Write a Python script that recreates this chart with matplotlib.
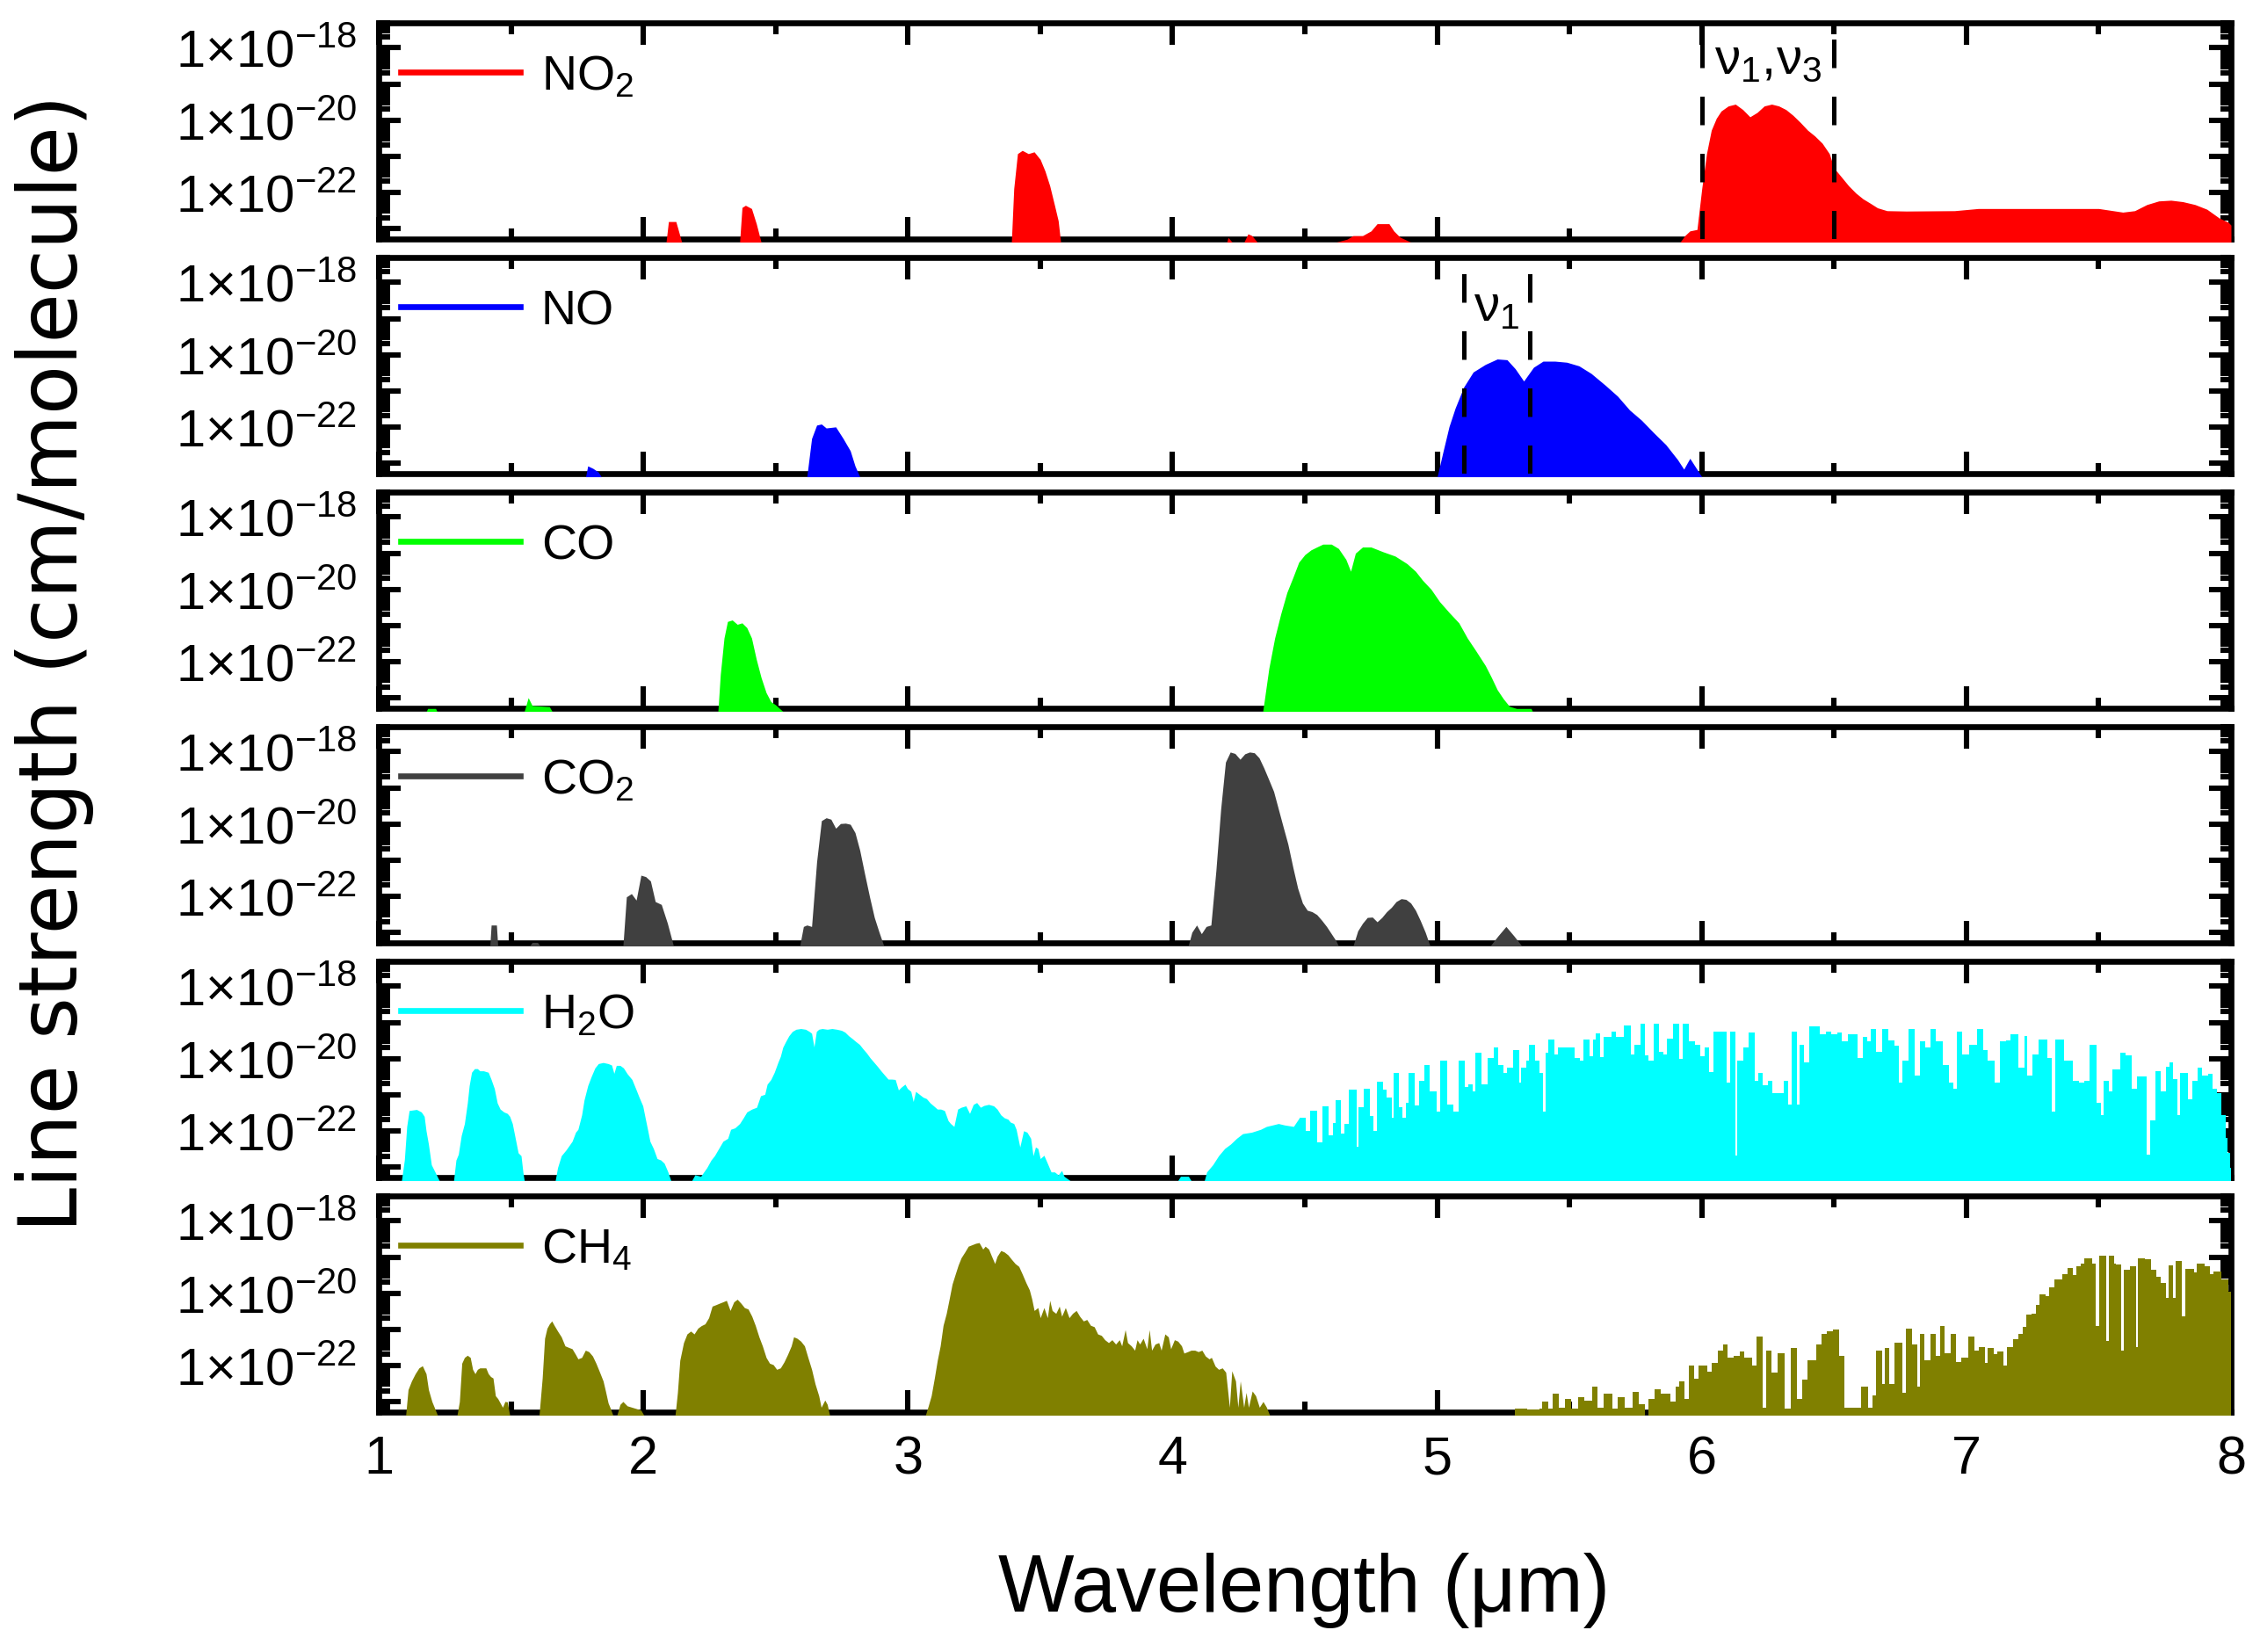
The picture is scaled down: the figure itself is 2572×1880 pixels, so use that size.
import numpy as np
import matplotlib
matplotlib.use('Agg')
import matplotlib.pyplot as plt
from matplotlib.lines import Line2D
from matplotlib.ticker import MultipleLocator, LogLocator, FixedLocator, FuncFormatter, NullFormatter

plt.rcParams['font.family'] = 'Liberation Sans'
plt.rcParams['mathtext.fontset'] = 'custom'
plt.rcParams['mathtext.rm'] = 'Liberation Sans'
plt.rcParams['mathtext.it'] = 'Liberation Sans:italic'
plt.rcParams['mathtext.bf'] = 'Liberation Sans:bold'

# wavelength (um) and log10 of line strength (cm/molecule)
no2_wl = [2.086, 2.095, 2.123, 2.132, 2.145,
          2.364, 2.373, 2.386, 2.409, 2.427, 2.445,
          3.391, 3.400, 3.414, 3.432, 3.455, 3.477, 3.500, 3.518, 3.536, 3.555, 3.568, 3.577,
          4.205, 4.210, 4.225, 4.270, 4.285, 4.300, 4.320,
          4.618, 4.659, 4.682, 4.718, 4.750, 4.773, 4.818, 4.836, 4.859, 4.900,
          5.918, 5.936, 5.955, 5.982, 6.000, 6.018, 6.036, 6.055, 6.073, 6.100,
          6.127, 6.155, 6.182, 6.209, 6.236, 6.264, 6.291, 6.318, 6.345, 6.373,
          6.400, 6.427, 6.455, 6.482, 6.500, 6.527, 6.555, 6.582, 6.609, 6.636,
          6.664, 6.700, 6.773, 6.955, 7.045, 7.318, 7.500, 7.591, 7.636, 7.682,
          7.727, 7.773, 7.818, 7.864, 7.909, 7.955, 7.990, 8.000]
no2_logs = [-23.4, -22.81, -22.81, -23.04, -23.4,
            -23.4, -22.42, -22.36, -22.45, -22.87, -23.4,
            -23.4, -21.90, -20.93, -20.84, -20.93, -20.88, -21.09, -21.41, -21.82, -22.39, -22.79, -23.4,
            -23.4, -23.25, -23.4, -23.4, -23.15, -23.2, -23.4,
            -23.4, -23.3, -23.2, -23.2, -23.07, -22.87, -22.87, -23.07, -23.24, -23.4,
            -23.4, -23.20, -23.07, -23.03, -21.90, -20.93, -20.28, -19.95, -19.75, -19.61,
            -19.56, -19.71, -19.91, -19.79, -19.61, -19.56, -19.61, -19.71, -19.87, -20.07,
            -20.28, -20.44, -20.64, -20.93, -21.33, -21.57, -21.82, -22.02, -22.18, -22.30,
            -22.43, -22.51, -22.52, -22.51, -22.45, -22.45, -22.45, -22.55, -22.51, -22.34,
            -22.24, -22.22, -22.26, -22.34, -22.47, -22.71, -22.83, -22.91]

no_wl = [1.782, 1.790, 1.810, 1.830, 1.841,
         2.618, 2.636, 2.655, 2.673, 2.691, 2.727, 2.755, 2.782, 2.800, 2.818,
         5.000, 5.023, 5.045, 5.068, 5.100, 5.136, 5.182, 5.227, 5.264, 5.295,
         5.327, 5.364, 5.400, 5.445, 5.490, 5.536, 5.582, 5.636, 5.682, 5.727,
         5.773, 5.818, 5.864, 5.909, 5.932, 5.955, 5.977, 6.000]
no_logs = [-23.4, -23.08, -23.15, -23.25, -23.4,
           -23.4, -22.32, -21.95, -21.92, -22.03, -22.00, -22.32, -22.66, -23.08, -23.4,
           -23.4, -22.66, -21.99, -21.48, -20.90, -20.48, -20.27, -20.12, -20.14, -20.39,
           -20.73, -20.35, -20.18, -20.18, -20.21, -20.31, -20.52, -20.85, -21.15, -21.53,
           -21.82, -22.16, -22.49, -22.91, -23.17, -22.87, -23.12, -23.4]

co_wl = [1.180, 1.185, 1.215, 1.220,
         1.550, 1.565, 1.580, 1.645, 1.655,
         2.282, 2.291, 2.305, 2.318, 2.336, 2.355, 2.373, 2.391, 2.409, 2.427, 2.445, 2.464, 2.482, 2.500, 2.527,
         4.341, 4.364, 4.386, 4.409, 4.432, 4.455, 4.477, 4.500, 4.523, 4.545,
         4.568, 4.600, 4.627, 4.655, 4.673, 4.691, 4.718, 4.750, 4.795, 4.841,
         4.886, 4.918, 4.945, 4.977, 5.009, 5.045, 5.082, 5.114, 5.145, 5.182,
         5.205, 5.227, 5.250, 5.273, 5.300, 5.355, 5.360]
co_logs = [-23.4, -23.3, -23.3, -23.4,
           -23.4, -23.0, -23.22, -23.25, -23.4,
           -23.4, -22.36, -21.35, -20.89, -20.85, -20.97, -20.93, -21.06, -21.35, -21.94, -22.44, -22.86, -23.11, -23.2, -23.4,
           -23.4, -22.19, -21.35, -20.68, -20.09, -19.67, -19.25, -19.04, -18.91, -18.83,
           -18.75, -18.75, -18.87, -19.17, -19.50, -19.00, -18.83, -18.83, -18.96, -19.08,
           -19.29, -19.50, -19.75, -20.00, -20.34, -20.64, -20.93, -21.35, -21.69, -22.11,
           -22.44, -22.78, -23.03, -23.24, -23.3, -23.3, -23.4]

co2_wl = [1.420, 1.425, 1.445, 1.450,
          1.570, 1.580, 1.600, 1.610,
          1.923, 1.936, 1.955, 1.973, 1.991, 2.009, 2.027, 2.045, 2.068, 2.091, 2.114,
          2.591, 2.605, 2.618, 2.636, 2.655, 2.673, 2.691, 2.709, 2.727, 2.745,
          2.764, 2.782, 2.800, 2.818, 2.836, 2.855, 2.873, 2.891, 2.909,
          4.059, 4.073, 4.091, 4.109, 4.127, 4.145, 4.164, 4.182, 4.200, 4.218,
          4.236, 4.255, 4.273, 4.291, 4.309, 4.327, 4.345, 4.364, 4.382, 4.400,
          4.418, 4.436, 4.455, 4.473, 4.491, 4.509, 4.527, 4.545, 4.564, 4.582,
          4.600, 4.618, 4.627,
          4.682, 4.700, 4.718, 4.736, 4.755, 4.773, 4.791, 4.809, 4.827, 4.845,
          4.864, 4.882, 4.900, 4.918, 4.936, 4.955, 4.973,
          5.200, 5.230, 5.260, 5.290, 5.320]
co2_logs = [-23.4, -22.8, -22.8, -23.4,
            -23.4, -23.28, -23.28, -23.4,
            -23.4, -22.02, -21.93, -22.11, -21.42, -21.46, -21.58, -22.15, -22.23, -22.75, -23.4,
            -23.4, -22.84, -22.80, -22.84, -21.05, -19.91, -19.83, -19.87, -20.12, -19.99,
            -19.98, -20.01, -20.24, -20.73, -21.37, -22.02, -22.59, -23.00, -23.4,
            -23.4, -23.00, -22.80, -23.04, -22.84, -22.80, -21.29, -19.59, -18.29, -18.01,
            -18.05, -18.21, -18.06, -18.01, -18.03, -18.17, -18.45, -18.78, -19.10, -19.59,
            -20.08, -20.56, -21.21, -21.78, -22.19, -22.39, -22.43, -22.51, -22.67, -22.84,
            -23.04, -23.24, -23.4,
            -23.4, -22.96, -22.75, -22.59, -22.58, -22.71, -22.59, -22.43, -22.31, -22.15,
            -22.07, -22.09, -22.19, -22.39, -22.67, -23.00, -23.4,
            -23.4, -23.1, -22.84, -23.1, -23.4]

h2o_wl = [1.086, 1.097, 1.106, 1.115, 1.143, 1.161, 1.172, 1.179, 1.188, 1.199, 1.210, 1.229,
          1.283, 1.292, 1.301, 1.312, 1.324, 1.335, 1.342, 1.351, 1.362, 1.373, 1.382, 1.396, 1.414,
          1.425, 1.437, 1.448, 1.459, 1.473, 1.486, 1.495, 1.505, 1.514, 1.527, 1.538, 1.545, 1.550,
          1.667, 1.676, 1.690, 1.708, 1.731, 1.744, 1.753, 1.767, 1.776, 1.790, 1.803, 1.817,
          1.830, 1.848, 1.867, 1.880, 1.889, 1.898, 1.912, 1.925, 1.939, 1.957, 1.971, 1.984,
          1.998, 2.007, 2.016, 2.025, 2.038, 2.052, 2.066, 2.079, 2.093, 2.104,
          2.183, 2.195, 2.217, 2.240, 2.256, 2.269, 2.285, 2.301, 2.319, 2.330,
          2.346, 2.364, 2.378, 2.391, 2.410, 2.428, 2.443, 2.459, 2.468, 2.482,
          2.495, 2.509, 2.518, 2.527, 2.538, 2.550, 2.563, 2.577, 2.595, 2.613,
          2.627, 2.636, 2.645, 2.654, 2.663, 2.676, 2.695, 2.713, 2.731, 2.749,
          2.762, 2.776, 2.790, 2.803, 2.817, 2.830, 2.844, 2.857, 2.871, 2.885,
          2.898, 2.912, 2.925, 2.939, 2.952, 2.964, 2.975, 2.989, 2.998, 3.011,
          3.020, 3.029, 3.043, 3.057, 3.070, 3.084, 3.097, 3.111, 3.124, 3.138,
          3.152, 3.161, 3.174, 3.188, 3.201, 3.219, 3.233, 3.247, 3.260, 3.274,
          3.287, 3.305, 3.324, 3.337, 3.351, 3.364, 3.378, 3.387, 3.400, 3.409,
          3.423, 3.437, 3.450, 3.464, 3.473, 3.482, 3.491, 3.500, 3.514, 3.527,
          3.541, 3.554, 3.568, 3.581, 3.590, 3.613,
          4.020, 4.030, 4.060, 4.070,
          4.120, 4.129, 4.152, 4.174, 4.197, 4.219, 4.242, 4.265, 4.299, 4.333,
          4.355, 4.378, 4.400, 4.423, 4.457, 4.479]
h2o_logs = [-23.4, -22.81, -21.88, -21.44, -21.41, -21.48, -21.60, -22.00, -22.37, -22.94, -23.10, -23.4,
            -23.4, -22.81, -22.65, -22.13, -21.80, -21.23, -20.75, -20.38, -20.28, -20.28, -20.34, -20.34, -20.38,
            -20.58, -20.83, -21.23, -21.40, -21.48, -21.52, -21.60, -21.80, -22.13, -22.61, -22.69, -23.14, -23.4,
            -23.4, -23.02, -22.69, -22.53, -22.29, -22.04, -21.96, -21.56, -21.15, -20.75, -20.50, -20.26,
            -20.14, -20.11, -20.14, -20.18, -20.41, -20.19, -20.19, -20.26, -20.42, -20.58, -20.83, -21.07,
            -21.31, -21.64, -21.96, -22.29, -22.49, -22.77, -22.81, -22.90, -23.14, -23.4,
            -23.4, -23.22, -23.26, -23.02, -22.81, -22.69, -22.49, -22.29, -22.21, -21.96,
            -21.92, -21.80, -21.64, -21.48, -21.40, -21.35, -21.03, -20.99, -20.71, -20.58,
            -20.38, -20.10, -19.94, -19.69, -19.53, -19.37, -19.25, -19.19, -19.17, -19.19,
            -19.25, -19.30, -19.68, -19.25, -19.19, -19.17, -19.19, -19.17, -19.19, -19.22,
            -19.27, -19.37, -19.45, -19.53, -19.61, -19.73, -19.85, -19.98, -20.10, -20.22,
            -20.34, -20.46, -20.57, -20.57, -20.58, -20.87, -20.79, -20.71, -20.83, -20.91,
            -21.19, -20.91, -20.99, -21.07, -21.11, -21.23, -21.31, -21.40, -21.40, -21.44,
            -21.72, -21.80, -21.88, -21.40, -21.35, -21.31, -21.52, -21.27, -21.22, -21.35,
            -21.30, -21.27, -21.31, -21.40, -21.56, -21.64, -21.68, -21.76, -21.80, -21.96,
            -22.45, -22.00, -22.04, -22.21, -22.69, -22.45, -22.49, -22.77, -22.68, -22.90,
            -23.14, -23.14, -23.22, -23.10, -23.26, -23.4,
            -23.4, -23.26, -23.26, -23.4,
            -23.4, -23.14, -22.94, -22.69, -22.49, -22.37, -22.21, -22.08, -22.04, -21.96,
            -21.88, -21.84, -21.80, -21.84, -21.88, -21.64]

# dense line comb of the H2O band beyond 4.5 um (start of each line group, level)
h2o_comb_wl = [4.479, 4.502, 4.520, 4.548, 4.566, 4.589, 4.605, 4.617, 4.635, 4.649,
               4.667, 4.695, 4.704, 4.722, 4.745, 4.759, 4.773, 4.796, 4.809, 4.828,
               4.835, 4.855, 4.869, 4.883, 4.892, 4.915, 4.933, 4.951, 4.970, 4.997,
               5.011, 5.039, 5.062, 5.080, 5.103, 5.117, 5.135, 5.144, 5.167, 5.190,
               5.213, 5.231, 5.250, 5.263, 5.286, 5.309, 5.318, 5.337, 5.346, 5.369,
               5.387, 5.401, 5.410, 5.419, 5.442, 5.456, 5.520, 5.539, 5.552, 5.575,
               5.589, 5.598, 5.617, 5.630, 5.658, 5.676, 5.704, 5.731, 5.745, 5.768,
               5.786, 5.800, 5.818, 5.837, 5.855, 5.869, 5.892, 5.915, 5.929, 5.951,
               5.974, 5.993, 6.011, 6.029, 6.043, 6.094, 6.107, 6.126, 6.135, 6.158,
               6.176, 6.199, 6.213, 6.231, 6.250, 6.268, 6.286, 6.309, 6.328, 6.341,
               6.360, 6.369, 6.387, 6.406, 6.447, 6.470, 6.488, 6.511, 6.529, 6.552,
               6.589, 6.607, 6.626, 6.640, 6.658, 6.681, 6.704, 6.727, 6.745, 6.759,
               6.782, 6.805, 6.823, 6.846, 6.864, 6.883, 6.910, 6.933, 6.951, 6.965,
               6.984, 7.011, 7.039, 7.062, 7.080, 7.107, 7.126, 7.149, 7.167, 7.195,
               7.218, 7.231, 7.250, 7.273, 7.305, 7.323, 7.337, 7.369, 7.401, 7.424,
               7.447, 7.465, 7.493, 7.507, 7.520, 7.539, 7.552, 7.580, 7.603, 7.626,
               7.644, 7.681, 7.695, 7.713, 7.736, 7.754, 7.768, 7.782, 7.796, 7.809,
               7.837, 7.855, 7.873, 7.892, 7.915, 7.929, 7.947, 7.965, 7.979, 7.988,
               7.997]
h2o_comb_logs = [-21.64, -22.00, -21.44, -22.33, -21.33, -22.12, -21.78, -21.15, -22.08, -21.80,
                 -20.87, -22.45, -21.35, -20.84, -21.60, -22.00, -20.64, -20.87, -21.07, -21.64,
                 -20.41, -21.35, -21.64, -21.22, -20.41, -21.31, -20.62, -20.19, -20.91, -21.48,
                 -20.06, -21.27, -21.48, -20.06, -20.79, -20.71, -20.91, -19.84, -20.71, -19.98,
                 -19.69, -20.18, -20.41, -20.26, -19.76, -20.67, -20.26, -20.06, -19.61, -20.06,
                 -20.41, -21.48, -19.85, -19.47, -19.89, -19.69, -19.98, -20.06, -19.47, -19.94,
                 -19.47, -19.30, -19.95, -19.41, -19.25, -19.41, -19.08, -19.89, -19.63, -19.03,
                 -19.92, -20.06, -19.03, -19.81, -19.89, -19.45, -19.03, -20.02, -19.03, -19.53,
                 -19.61, -19.94, -19.69, -20.38, -19.25, -20.67, -19.25, -22.69, -20.06, -19.69,
                 -19.27, -20.62, -20.41, -20.75, -20.62, -20.97, -20.97, -20.62, -21.27, -19.25,
                 -21.27, -19.61, -20.11, -19.11, -19.33, -19.25, -19.33, -19.27, -19.53, -19.33,
                 -19.98, -19.41, -19.53, -19.19, -19.81, -19.19, -19.49, -19.65, -20.67, -20.06,
                 -19.19, -20.46, -19.53, -19.69, -19.19, -19.53, -20.18, -20.67, -20.83, -19.25,
                 -19.89, -19.61, -19.19, -19.77, -20.06, -20.67, -19.53, -19.49, -19.33, -20.26,
                 -19.37, -20.46, -19.89, -19.47, -19.98, -21.48, -19.47, -20.06, -20.62, -20.67,
                 -20.62, -19.63, -21.23, -21.56, -20.62, -20.91, -20.30, -19.84, -19.92, -20.83,
                 -20.49, -22.65, -21.72, -20.34, -20.91, -20.22, -20.11, -20.58, -21.56, -20.41,
                 -21.14, -20.62, -20.26, -20.46, -20.42, -20.83, -20.95, -21.56, -22.21, -22.61,
                 -23.02]

ch4_wl = [1.102, 1.111, 1.124, 1.138, 1.152, 1.165, 1.179, 1.188, 1.201, 1.210, 1.222,
          1.296, 1.305, 1.314, 1.324, 1.335, 1.346, 1.355, 1.364, 1.373, 1.382, 1.405,
          1.414, 1.423, 1.432, 1.441, 1.450, 1.459, 1.468, 1.477, 1.486, 1.495,
          1.606, 1.618, 1.627, 1.636, 1.645, 1.654, 1.663, 1.676, 1.690, 1.704, 1.717, 1.731,
          1.744, 1.753, 1.767, 1.781, 1.794, 1.808, 1.821, 1.835, 1.848, 1.857, 1.867, 1.876, 1.885,
          1.900, 1.912, 1.923, 1.939, 1.957, 1.975, 1.991, 2.002,
          2.120, 2.129, 2.138, 2.152, 2.165, 2.179, 2.192, 2.206, 2.219, 2.233,
          2.247, 2.260, 2.274, 2.287, 2.301, 2.314, 2.328, 2.342, 2.355, 2.369,
          2.382, 2.396, 2.410, 2.423, 2.437, 2.450, 2.464, 2.477, 2.491, 2.504,
          2.518, 2.532, 2.545, 2.559, 2.568, 2.581, 2.595, 2.609, 2.622, 2.636,
          2.649, 2.663, 2.672, 2.686, 2.695, 2.704,
          3.066, 3.077, 3.088, 3.100, 3.111, 3.122, 3.133, 3.145, 3.156, 3.167,
          3.179, 3.190, 3.201, 3.215, 3.228, 3.242, 3.256, 3.269, 3.283, 3.292,
          3.305, 3.314, 3.328, 3.337, 3.351, 3.364, 3.378, 3.391, 3.405, 3.419,
          3.432, 3.446, 3.459, 3.468, 3.477, 3.491, 3.500, 3.514, 3.527, 3.536,
          3.545, 3.559, 3.572, 3.581, 3.595, 3.609, 3.622, 3.636, 3.649, 3.663,
          3.676, 3.690, 3.704, 3.717, 3.731, 3.744, 3.758, 3.771, 3.785, 3.799,
          3.808, 3.821, 3.830, 3.844, 3.857, 3.866, 3.876, 3.889, 3.903, 3.912,
          3.921, 3.934, 3.948, 3.957, 3.971, 3.984, 3.993, 4.007, 4.020, 4.034,
          4.043, 4.057, 4.070, 4.084, 4.097, 4.111, 4.124, 4.138, 4.147, 4.161,
          4.174, 4.188, 4.201, 4.215, 4.224, 4.238, 4.247, 4.256, 4.269, 4.278,
          4.287, 4.301, 4.314, 4.328, 4.342, 4.355, 4.367]
ch4_logs = [-23.4, -22.67, -22.43, -22.23, -22.07, -22.01, -22.23, -22.67, -23.00, -23.16, -23.4,
            -23.4, -23.00, -21.94, -21.78, -21.72, -21.78, -22.11, -22.23, -22.11, -22.07, -22.07,
            -22.23, -22.31, -22.35, -22.84, -22.92, -23.04, -23.16, -23.00, -23.01, -23.4,
            -23.4, -22.35, -21.25, -20.97, -20.85, -20.77, -20.89, -21.05, -21.21, -21.46, -21.50, -21.54,
            -21.70, -21.82, -21.78, -21.58, -21.62, -21.74, -21.94, -22.19, -22.43, -22.71, -23.04, -23.20, -23.4,
            -23.4, -23.08, -23.00, -23.12, -23.16, -23.20, -23.24, -23.4,
            -23.4, -22.75, -21.86, -21.37, -21.13, -21.05, -21.13, -20.97, -20.90, -20.85,
            -20.68, -20.36, -20.32, -20.28, -20.24, -20.20, -20.48, -20.24, -20.17, -20.28,
            -20.40, -20.44, -20.64, -20.89, -21.21, -21.46, -21.78, -21.94, -21.98, -22.11,
            -22.07, -21.90, -21.70, -21.46, -21.21, -21.25, -21.33, -21.46, -21.78, -22.11,
            -22.51, -22.84, -23.16, -22.96, -23.08, -23.4,
            -23.4, -23.12, -22.84, -22.35, -21.86, -21.46, -20.89, -20.56, -20.16, -19.75,
            -19.47, -19.22, -19.02, -18.86, -18.70, -18.66, -18.62, -18.60, -18.78, -18.70,
            -18.78, -18.94, -19.18, -18.98, -18.82, -18.86, -18.94, -19.06, -19.18, -19.26,
            -19.47, -19.71, -19.91, -20.16, -20.48, -20.40, -20.68, -20.40, -20.68, -20.20,
            -20.48, -20.56, -20.36, -20.64, -20.40, -20.68, -20.56, -20.48, -20.64, -20.77,
            -20.73, -20.89, -20.93, -21.13, -21.17, -21.29, -21.37, -21.29, -21.41, -21.29,
            -21.46, -21.01, -21.37, -21.46, -21.58, -21.29, -21.41, -21.25, -21.54, -21.01,
            -21.58, -21.41, -21.37, -21.58, -21.13, -21.21, -21.54, -21.29, -21.33, -21.46,
            -21.66, -21.62, -21.58, -21.58, -21.62, -21.58, -21.74, -21.82, -21.78, -22.02,
            -22.11, -22.07, -22.19, -23.16, -22.15, -22.43, -23.16, -22.43, -23.16, -22.75,
            -23.16, -22.71, -22.84, -23.16, -23.00, -23.16, -23.4]

ch4_comb_wl = [5.293, 5.339, 5.385, 5.396, 5.419, 5.438, 5.461, 5.484, 5.507, 5.534,
               5.557, 5.585, 5.607, 5.630, 5.662, 5.681, 5.708, 5.740, 5.763, 5.786,
               5.800, 5.823, 5.846, 5.883, 5.901, 5.915, 5.933, 5.951, 5.970, 5.988,
               6.020, 6.039, 6.062, 6.080, 6.098, 6.121, 6.144, 6.162, 6.190, 6.208,
               6.231, 6.245, 6.263, 6.286, 6.314, 6.337, 6.360, 6.378, 6.401, 6.433,
               6.451, 6.474, 6.497, 6.520, 6.539, 6.603, 6.630, 6.644, 6.658, 6.681,
               6.690, 6.708, 6.727, 6.759, 6.773, 6.796, 6.814, 6.823, 6.841, 6.864,
               6.883, 6.901, 6.919, 6.942, 6.961, 6.979, 7.007, 7.029, 7.048, 7.071,
               7.080, 7.103, 7.117, 7.140, 7.153, 7.176, 7.195, 7.213, 7.227, 7.245,
               7.263, 7.277, 7.300, 7.314, 7.332, 7.364, 7.383, 7.401, 7.415, 7.433,
               7.447, 7.474, 7.488, 7.502, 7.529, 7.539, 7.557, 7.566, 7.585, 7.594,
               7.617, 7.640, 7.649, 7.676, 7.699, 7.718, 7.736, 7.754, 7.763, 7.782,
               7.791, 7.814, 7.828, 7.860, 7.869, 7.901, 7.919, 7.933, 7.965, 7.990]
ch4_comb_logs = [-23.2, -23.23, -23.2, -23.0, -23.2, -22.79, -23.16, -22.93, -23.2, -22.88,
                 -22.98, -22.58, -23.16, -22.79, -23.2, -22.88, -23.16, -22.74, -23.08, -23.4,
                 -22.93, -22.66, -22.79, -23.01, -22.58, -22.45, -22.93, -22.01, -22.37, -22.01,
                 -22.17, -21.94, -21.58, -21.42, -21.78, -21.74, -21.62, -21.78, -22.01, -21.21,
                 -23.16, -21.58, -22.19, -21.66, -23.2, -21.52, -22.93, -22.39, -21.86, -21.42,
                 -21.13, -21.05, -21.01, -21.74, -23.16, -22.58, -23.16, -22.84, -21.58, -22.51,
                 -21.52, -22.51, -21.36, -22.75, -20.98, -21.42, -22.59, -21.13, -21.86, -21.13,
                 -21.74, -20.90, -21.66, -21.13, -21.90, -21.78, -21.20, -21.58, -21.50, -21.93,
                 -21.52, -21.70, -21.62, -22.01, -21.50, -21.28, -21.13, -20.93, -20.60, -20.56,
                 -20.32, -20.04, -20.08, -19.83, -19.63, -19.47, -19.30, -19.51, -19.26, -19.17,
                 -19.04, -19.18, -20.90, -18.96, -21.33, -18.96, -19.18, -19.20, -21.58, -19.35,
                 -19.26, -21.50, -19.04, -19.06, -19.35, -19.55, -19.71, -20.12, -19.22, -20.12,
                 -19.10, -20.63, -19.33, -19.43, -19.18, -19.25, -19.47, -19.39, -19.61, -19.95]

names = ['NO$_2$', 'NO', 'CO', 'CO$_2$', 'H$_2$O', 'CH$_4$']
colors = ['#ff0000', '#0000ff', '#00ff00', '#404040', '#00ffff', '#808000']
bands = [(no2_wl, no2_logs), (no_wl, no_logs), (co_wl, co_logs),
         (co2_wl, co2_logs), (h2o_wl, h2o_logs), (ch4_wl, ch4_logs)]
combs = [None, None, None, None,
         (h2o_comb_wl, h2o_comb_logs), (ch4_comb_wl, ch4_comb_logs)]
# vibrational band limits marked with dashed lines
marks = {0: (6.0, 6.5, 'ν$_1$,ν$_3$', 0.83), 1: (5.1, 5.35, 'ν$_1$', 0.77)}
decades = [-23, -22, -21, -20, -19, -18]
labelled = [-22, -20, -18]

W, H = 2572, 1881
fig = plt.figure(figsize=(W / 200, H / 200), dpi=200)

floor = 10 ** -23.38


def ytick_fmt(v, pos):
    e = int(round(np.log10(v)))
    return r'1×10$^{%d}$' % e if e in labelled else ''


for i in range(6):
    top = 26.7 + i * 267.0
    ax = fig.add_axes([431 / W, 1 - (top + 246.6) / H, 2108 / W, 246.6 / H])
    ax.set_yscale('log')
    ax.set_xlim(1, 8)
    ax.set_ylim(5e-24, 5e-18)

    wl, logs = bands[i]
    s = np.maximum(10.0 ** np.array(logs), floor)
    ax.fill_between(wl, floor, s, color=colors[i], lw=0, zorder=3, clip_on=False)
    if combs[i] is not None:
        cw = list(combs[i][0]) + [8.0]
        cs = np.maximum(10.0 ** np.array(list(combs[i][1]) + [combs[i][1][-1]]), floor)
        ax.fill_between(cw, floor, cs, step='post', color=colors[i], lw=0,
                        zorder=3, clip_on=False)

    if i in marks:
        x1, x2, lab, ty = marks[i]
        for xv in (x1, x2):
            ax.axvline(xv, color='black', lw=1.8, ls=(0, (6.5, 6.5)), zorder=4)
        ax.text((x1 + x2) / 2, ty, lab, transform=ax.get_xaxis_transform(),
                ha='center', va='center', fontsize=21, zorder=5)

    for sp in ax.spines.values():
        sp.set_linewidth(2.4)
    ax.xaxis.set_major_locator(MultipleLocator(1))
    ax.xaxis.set_minor_locator(MultipleLocator(0.5))
    ax.yaxis.set_major_locator(FixedLocator([10.0 ** e for e in decades]))
    ax.yaxis.set_minor_locator(LogLocator(base=10, subs=np.arange(2, 10), numticks=30))
    ax.yaxis.set_major_formatter(FuncFormatter(ytick_fmt))
    ax.yaxis.set_minor_formatter(NullFormatter())
    ax.tick_params(which='both', direction='in', top=True, right=True, width=2.2)
    ax.tick_params(which='major', length=9)
    ax.tick_params(which='minor', length=4.5)
    ax.tick_params(axis='y', which='major', labelsize=21.5, pad=9)
    ax.tick_params(axis='x', which='major', labelsize=22, pad=9, labelbottom=(i == 5))

    handle = Line2D([], [], color=colors[i], lw=2.4)
    ax.legend([handle], [names[i]], loc='center left', bbox_to_anchor=(0.012, 0.75),
              frameon=False, fontsize=20, handlelength=2.45, handletextpad=0.42,
              borderpad=0, borderaxespad=0)

fig.text(0.577, 0.038, 'Wavelength (μm)', ha='center', va='center', fontsize=33)
fig.text(0.024, 0.599, 'Line strength (cm/molecule)', rotation=90, ha='center',
         va='center', fontsize=33, family='DejaVu Sans')

fig.savefig('out.png', dpi=200)
